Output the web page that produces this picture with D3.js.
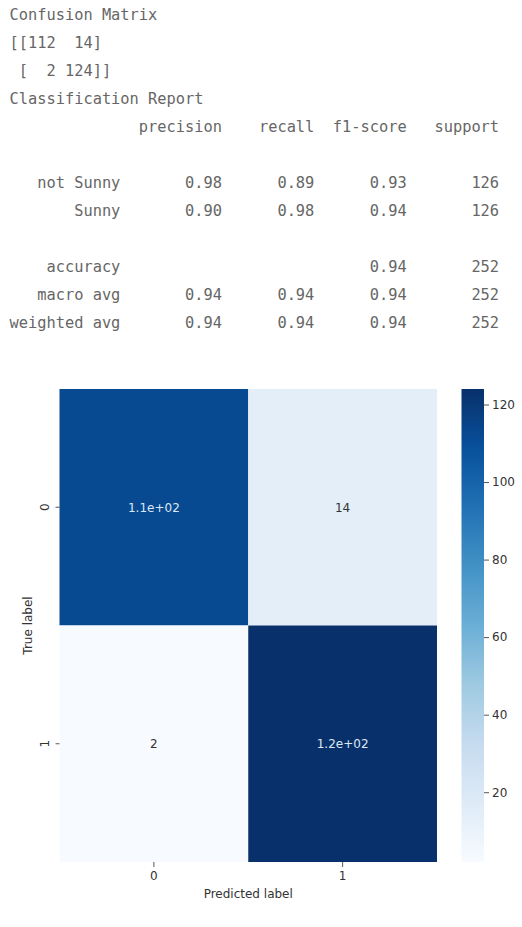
<!DOCTYPE html>
<html>
<head>
<meta charset="utf-8">
<script src="https://cdn.jsdelivr.net/npm/d3@7"></script>
<style>
html, body { margin: 0; padding: 0; background: #fff; }
svg { display: block; }
.console { font-family: "DejaVu Sans Mono", monospace; font-size: 15.35px; fill: #666; white-space: pre; }
.tick text, .axlabel, .annot { font-family: "DejaVu Sans", sans-serif; }
</style>
</head>
<body>
<svg id="chart" width="522" height="927"></svg>
<script>
// console output
var matrixTitle = 'Confusion Matrix',
    reportTitle = 'Classification Report',
    reportHeader = ['precision', 'recall', 'f1-score', 'support'],
    rowLabels = ['not Sunny', 'Sunny', 'accuracy', 'macro avg', 'weighted avg'],
    precision = ['0.98', '0.90', '', '0.94', '0.94'],
    recall = ['0.89', '0.98', '', '0.94', '0.94'],
    f1score = ['0.93', '0.94', '0.94', '0.94', '0.94'],
    support = ['126', '126', '252', '252', '252'];

// heatmap
var classes = ['0', '1'],
    confusion = [[112, 14], [2, 124]],
    annotations = [['1.1e+02', '14'], ['2', '1.2e+02']],
    colorbarTicks = [20, 40, 60, 80, 100, 120],
    xTitle = 'Predicted label',
    yTitle = 'True label';

var svg = d3.select('#chart');

var pad = function(s, n) { return String(s).padStart(n, ' '); };
var reportRow = function(i) {
    return pad(rowLabels[i], 12) + pad(precision[i], 11) + pad(recall[i], 10) +
        pad(f1score[i], 10) + pad(support[i], 10);
};

var lines = [
    matrixTitle,
    '[[' + pad(confusion[0][0], 3) + ' ' + pad(confusion[0][1], 3) + ']',
    ' [' + pad(confusion[1][0], 3) + ' ' + pad(confusion[1][1], 3) + ']]',
    reportTitle,
    pad('', 12) + pad(reportHeader[0], 11) + pad(reportHeader[1], 10) + pad(reportHeader[2], 10) + pad(reportHeader[3], 10),
    '',
    reportRow(0),
    reportRow(1),
    '',
    reportRow(2),
    reportRow(3),
    reportRow(4)
];

svg.append('g').selectAll('text').data(lines).enter().append('text')
    .attr('class', 'console')
    .attr('xml:space', 'preserve')
    .attr('x', 9.5)
    .attr('y', function(d, i) { return 19.5 + i * 28; })
    .text(function(d) { return d; });

var left = 59.5, right = 437, top_ = 389, bottom = 862;

var x = d3.scaleBand().domain(classes).range([left, right]);
var y = d3.scaleBand().domain(classes).range([top_, bottom]);

var extent = d3.extent(d3.merge(confusion));
var stops = d3.schemeBlues[9];
var color = d3.scaleLinear()
    .domain(stops.map(function(d, i) { return extent[0] + (extent[1] - extent[0]) * i / (stops.length - 1); }))
    .range(stops)
    .interpolate(d3.interpolateRgb);

var cells = [];
confusion.forEach(function(row, r) {
    row.forEach(function(v, c) {
        cells.push({r: r, c: c, v: v, label: annotations[r][c]});
    });
});

svg.append('g').selectAll('rect').data(cells).enter().append('rect')
    .attr('x', function(d) { return x(classes[d.c]); })
    .attr('y', function(d) { return y(classes[d.r]); })
    .attr('width', x.bandwidth())
    .attr('height', y.bandwidth())
    .attr('fill', function(d) { return color(d.v); });

svg.append('g').selectAll('text').data(cells).enter().append('text')
    .attr('class', 'annot')
    .attr('x', function(d) { return x(classes[d.c]) + x.bandwidth() / 2; })
    .attr('y', function(d) { return y(classes[d.r]) + y.bandwidth() / 2; })
    .attr('dy', '0.36em')
    .attr('text-anchor', 'middle')
    .attr('font-size', 12)
    .attr('fill', function(d) { return d.v > 60 ? '#dfe8f2' : '#333'; })
    .text(function(d) { return d.label; });

var styleAxis = function(g) {
    g.select('.domain').remove();
    g.selectAll('.tick line').attr('stroke', '#444').attr('stroke-width', 0.9);
    g.selectAll('.tick text').attr('fill', '#333').attr('font-size', 12);
};

svg.append('g')
    .attr('transform', 'translate(0,' + bottom + ')')
    .call(d3.axisBottom(x).tickSize(5).tickPadding(4))
    .call(styleAxis);

svg.append('g')
    .attr('transform', 'translate(' + left + ',0)')
    .call(d3.axisLeft(y).tickSize(4).tickPadding(4))
    .call(styleAxis)
    .selectAll('.tick text')
    .attr('transform', 'rotate(-90)')
    .attr('text-anchor', 'middle')
    .attr('x', 0)
    .attr('y', -10.5)
    .attr('dy', '0');

svg.append('text').attr('class', 'axlabel')
    .attr('x', (left + right) / 2).attr('y', 898)
    .attr('text-anchor', 'middle').attr('font-size', 12).attr('fill', '#333')
    .text(xTitle);

svg.append('text').attr('class', 'axlabel')
    .attr('transform', 'translate(31.5,' + (top_ + bottom) / 2 + ') rotate(-90)')
    .attr('text-anchor', 'middle').attr('font-size', 12).attr('fill', '#333')
    .text(yTitle);

// colorbar
var cbLeft = 461.5, cbRight = 484;
var cbScale = d3.scaleLinear().domain(extent).range([bottom, top_]);

var grad = svg.append('defs').append('linearGradient')
    .attr('id', 'cb').attr('x1', 0).attr('x2', 0).attr('y1', 1).attr('y2', 0);
stops.forEach(function(d, i) {
    grad.append('stop').attr('offset', i / (stops.length - 1)).attr('stop-color', d);
});

svg.append('rect')
    .attr('x', cbLeft).attr('y', top_)
    .attr('width', cbRight - cbLeft).attr('height', bottom - top_)
    .attr('fill', 'url(#cb)');

svg.append('g')
    .attr('transform', 'translate(' + cbRight + ',0)')
    .call(d3.axisRight(cbScale).tickValues(colorbarTicks).tickSize(5).tickPadding(3))
    .call(styleAxis);
</script>
</body>
</html>
